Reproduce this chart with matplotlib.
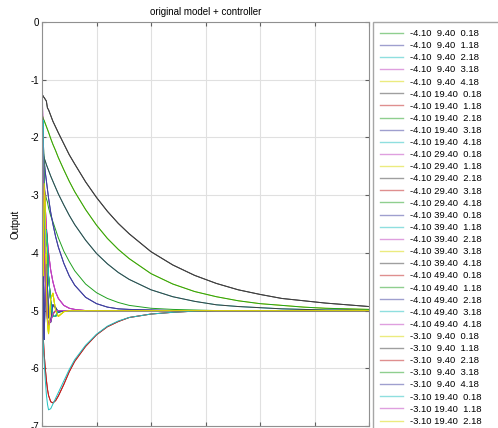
import matplotlib
matplotlib.use("Agg")
import matplotlib.pyplot as plt

plt.rcParams['font.family'] = ['Liberation Sans', 'DejaVu Sans']
plt.rcParams['axes.unicode_minus'] = False

# simulation time grid
t = [0, 0.05, 0.1, 0.15, 0.2, 0.3, 0.4, 0.5, 0.6, 0.8, 1.0, 1.25, 1.5, 2, 2.5, 3,
     4, 5, 6, 7, 8, 10, 12, 14, 16, 18, 20, 22, 24, 26, 28, 30]

# output responses (one list per distinct response shape)
slow_a = [-1.25, -1.27, -1.28, -1.30, -1.31, -1.34, -1.37, -1.49, -1.52, -1.62, -1.72, -1.82,
          -1.92, -2.11, -2.30, -2.46, -2.77, -3.04, -3.28, -3.49, -3.67, -3.98, -4.21, -4.39,
          -4.53, -4.64, -4.72, -4.79, -4.83, -4.87, -4.90, -4.93]
slow_b = [-1.60, -1.63, -1.66, -1.69, -1.71, -1.76, -1.81, -1.86, -1.91, -2.02, -2.12, -2.23,
          -2.35, -2.56, -2.76, -2.94, -3.25, -3.52, -3.75, -3.94, -4.10, -4.36, -4.54, -4.67,
          -4.76, -4.83, -4.88, -4.91, -4.94, -4.96, -4.97, -4.98]
slow_c = [-2.25, -2.28, -2.31, -2.33, -2.36, -2.41, -2.47, -2.52, -2.57, -2.67, -2.76, -2.87,
          -2.98, -3.17, -3.35, -3.51, -3.78, -4.01, -4.19, -4.34, -4.46, -4.64, -4.76, -4.84,
          -4.90, -4.93, -4.95, -4.97, -4.98, -4.99, -4.99, -5.00]
mid_a = [-2.70, -2.74, -2.79, -2.83, -2.88, -2.97, -3.06, -3.12, -3.22, -3.36, -3.46, -3.60,
         -3.74, -3.97, -4.15, -4.31, -4.54, -4.69, -4.79, -4.86, -4.91, -4.96, -4.98, -4.99,
         -5.00, -5.00, -5.00, -5.00, -5.00, -5.00, -5.00, -5.00]
fast_a = [-2.00, -2.10, -2.20, -2.30, -2.40, -2.60, -2.75, -2.90, -3.05, -3.30, -3.50, -3.72,
          -3.90, -4.18, -4.40, -4.56, -4.77, -4.88, -4.94, -4.97, -4.98, -4.99, -5.00, -5.00,
          -5.00, -5.00, -5.00, -5.00, -5.00, -5.00, -5.00, -5.00]
fast_b = [-1.00, -1.50, -2.00, -2.40, -2.70, -3.20, -3.55, -3.80, -4.00, -4.30, -4.50, -4.68,
          -4.79, -4.91, -4.96, -4.98, -5.00, -5.00, -5.00, -5.00, -5.00, -5.00, -5.00, -5.00,
          -5.00, -5.00, -5.00, -5.00, -5.00, -5.00, -5.00, -5.00]
fast_c = [-0.50, -2.50, -4.20, -5.30, -5.50, -4.60, -4.20, -4.60, -5.10, -5.20, -4.90, -4.95,
          -5.03, -5.00, -5.00, -5.00, -5.00, -5.00, -5.00, -5.00, -5.00, -5.00, -5.00, -5.00,
          -5.00, -5.00, -5.00, -5.00, -5.00, -5.00, -5.00, -5.00]
fast_d = [-1.40, -3.00, -4.40, -3.60, -2.80, -3.30, -4.50, -5.20, -5.40, -4.80, -4.70, -5.00,
          -5.10, -5.02, -5.00, -5.00, -5.00, -5.00, -5.00, -5.00, -5.00, -5.00, -5.00, -5.00,
          -5.00, -5.00, -5.00, -5.00, -5.00, -5.00, -5.00, -5.00]
fast_e = [-1.10, -1.80, -2.60, -3.30, -3.80, -4.50, -4.90, -5.15, -5.25, -5.18, -5.06, -5.00,
          -5.00, -5.00, -5.00, -5.00, -5.00, -5.00, -5.00, -5.00, -5.00, -5.00, -5.00, -5.00,
          -5.00, -5.00, -5.00, -5.00, -5.00, -5.00, -5.00, -5.00]
fast_f = [-1.60, -2.00, -1.70, -2.30, -3.20, -4.00, -3.60, -3.90, -4.40, -4.85, -5.10, -5.10,
          -5.00, -5.00, -5.00, -5.00, -5.00, -5.00, -5.00, -5.00, -5.00, -5.00, -5.00, -5.00,
          -5.00, -5.00, -5.00, -5.00, -5.00, -5.00, -5.00, -5.00]
dip_a = [-5.00, -5.20, -5.40, -5.58, -5.75, -6.00, -6.20, -6.36, -6.47, -6.58, -6.60, -6.56,
         -6.48, -6.28, -6.06, -5.88, -5.62, -5.42, -5.28, -5.19, -5.12, -5.06, -5.03, -5.01,
         -5.00, -5.00, -5.00, -5.00, -5.00, -5.00, -5.00, -5.00]
dip_b = [-5.00, -5.25, -5.48, -5.70, -5.90, -6.20, -6.45, -6.62, -6.72, -6.70, -6.62, -6.52,
         -6.42, -6.22, -6.02, -5.85, -5.60, -5.41, -5.27, -5.18, -5.12, -5.06, -5.03, -5.01,
         -5.00, -5.00, -5.00, -5.00, -5.00, -5.00, -5.00, -5.00]

# controller parameter sets shown in the legend
p1 = [-4.10] * 25 + [-3.10] * 8
p2 = ([9.40] * 5 + [19.40] * 5 + [29.40] * 5 + [39.40] * 5 + [49.40] * 5
      + [9.40] * 5 + [19.40] * 3)
p3 = [0.18, 1.18, 2.18, 3.18, 4.18] * 6 + [0.18, 1.18, 2.18]

responses = [mid_a, fast_a, slow_c, fast_b, slow_b, slow_a, dip_a, fast_c, fast_a, fast_f,
             fast_b, fast_d, slow_a, dip_a, slow_b, fast_c, fast_e, fast_b, fast_d, fast_f,
             fast_f, fast_f, fast_c, dip_b, fast_e, fast_d, slow_c, fast_e, fast_f, fast_c,
             fast_f, fast_e, fast_d]

color_cycle = ['#20a020', '#4040a0', '#20c0c0', '#c040c0', '#d8d800', '#404040', '#c02020']

fig = plt.figure(figsize=(4.98, 4.28), dpi=100)
ax = fig.add_axes([42 / 498, 2 / 428, 327 / 498, 404 / 428])

for i, y in enumerate(responses):
    label = '%5.2f %5.2f %5.2f' % (p1[i], p2[i], p3[i])
    ax.plot(t, y, color=color_cycle[i % 7], lw=0.7, label=label)

ax.set_xlim(0, 30)
ax.set_ylim(-7, 0)
ax.set_xticks([0, 5, 10, 15, 20, 25, 30])
ax.set_yticks([0, -1, -2, -3, -4, -5, -6, -7])
ax.grid(True, color='#e0e0e0', lw=0.8)
ax.tick_params(direction='in', top=True, right=True, labelsize=7, length=3,
               color='#606060', pad=2)
ax.tick_params(axis='x', labelbottom=False)
for s in ax.spines.values():
    s.set_color('#909090')
ax.set_ylabel('Output', fontsize=7, labelpad=7)
ax.set_title('original model + controller', fontsize=7, pad=5)

# legend box runs off the right and bottom edges of the figure
leg = ax.legend(loc='upper left', bbox_to_anchor=(373 / 498, 1 - 22 / 428, 140 / 498, 0),
                bbox_transform=fig.transFigure, mode='expand', fontsize=6.8,
                fancybox=False, edgecolor='#909090', handlelength=2.4,
                handletextpad=0.8, labelspacing=0.33, borderpad=0.75, borderaxespad=0)
for line in leg.get_lines():
    line.set_alpha(0.5)
    line.set_linewidth(1.0)

fig.savefig('out.png', dpi=100)
